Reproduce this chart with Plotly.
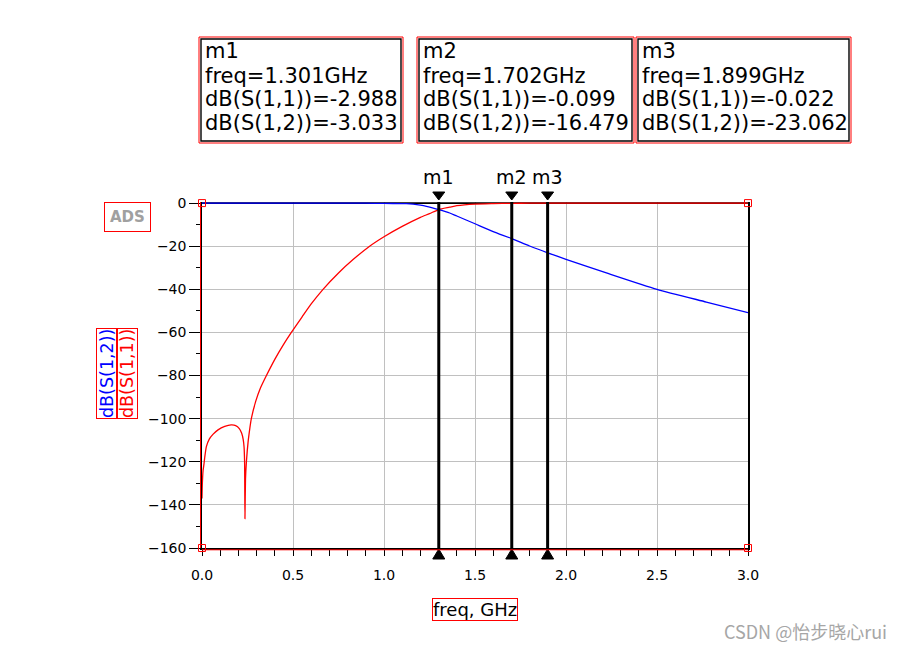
import plotly.graph_objects as go

# ---------------- data ----------------
FREQ_S11 = [0.0, 0.002, 0.006, 0.011, 0.015, 0.024, 0.04, 0.06, 0.088, 0.125, 0.16, 0.185,
            0.205, 0.218, 0.226, 0.231, 0.234, 0.236, 0.239, 0.244, 0.253, 0.262, 0.271,
            0.295, 0.32, 0.354, 0.40, 0.445, 0.491, 0.55, 0.60, 0.665, 0.75, 0.83,
            0.921, 1.0, 1.1, 1.2, 1.25, 1.301, 1.361, 1.4, 1.5, 1.6, 1.702, 1.8, 1.899,
            2.0, 2.5, 3.0]
DB_S11 = [-137.0, -130.0, -124.0, -121.0, -118.0, -113.0, -109.5, -107.3, -105.2, -103.6,
          -102.9, -103.2, -104.6, -106.8, -109.5, -113.0, -120.0, -146.4, -128.0, -120.0,
          -111.0, -105.0, -100.0, -92.0, -86.0, -80.0, -72.5, -66.0, -60.0, -52.8, -46.8,
          -40.0, -32.4, -26.2, -20.0, -15.6, -10.8, -6.6, -4.9, -2.988, -1.9, -1.2, -0.45,
          -0.22, -0.099, -0.05, -0.022, -0.012, -0.003, -0.001]

FREQ_S12 = [0.0, 0.5, 0.8, 0.9, 1.0, 1.1, 1.123, 1.2, 1.233, 1.301, 1.361, 1.4, 1.5, 1.6,
            1.702, 1.8, 1.899, 2.0, 2.222, 2.5, 2.771, 3.0]
DB_S12 = [0.0, -0.0, -0.02, -0.06, -0.15, -0.25, -0.3, -1.0, -1.5, -3.033, -4.6, -6.0,
          -9.6, -13.2, -16.479, -19.9, -23.062, -26.1, -32.4, -40.0, -45.9, -50.8]

MARKER_NAMES = ["m1", "m2", "m3"]
MARKER_FREQ = [1.301, 1.702, 1.899]
MARKER_S11 = [-2.988, -0.099, -0.022]
MARKER_S12 = [-3.033, -16.479, -23.062]

X_TICKS = [0.0, 0.5, 1.0, 1.5, 2.0, 2.5, 3.0]
X_TICK_TEXT = ["0.0", "0.5", "1.0", "1.5", "2.0", "2.5", "3.0"]
Y_TICKS = [0, -20, -40, -60, -80, -100, -120, -140, -160]
X_RANGE = [0.0, 3.0]
Y_RANGE = [-160, 0]
Y_HEADROOM = 0.5   # small headroom so the 0 dB frame line and curves are not clipped

# ---------------- layout helpers ----------------
OFF = 8                      # page body margin
W, H = 904 - OFF, 650 - OFF
ML, MT = 202 - OFF, 202 - OFF
MR = W - (748 - OFF)
MB = H - (548 - OFF)
PW = W - ML - MR
PH = H - MT - MB
FONT = "DejaVu Sans"


def px(x):
    """reference-screen x pixel -> paper fraction"""
    return (x - OFF - ML) / PW


def py(y):
    """reference-screen y pixel -> paper fraction"""
    return (H - MB - (y - OFF)) / PH


fig = go.Figure()

# top frame line at 0 dB (drawn first so the curves sit on it)
fig.add_trace(go.Scatter(x=X_RANGE, y=[Y_RANGE[1], Y_RANGE[1]], mode="lines",
                         line=dict(color="black", width=1.6), showlegend=False,
                         hoverinfo="skip"))

fig.add_trace(go.Scatter(x=FREQ_S11, y=DB_S11, mode="lines",
                         line=dict(color="#ff0000", width=1.3, shape="spline", smoothing=0.6),
                         showlegend=False, hoverinfo="skip"))
fig.add_trace(go.Scatter(x=FREQ_S12, y=DB_S12, mode="lines",
                         line=dict(color="#0000ff", width=1.3, shape="spline", smoothing=0.6),
                         showlegend=False, hoverinfo="skip"))

# marker lines
for f in MARKER_FREQ:
    fig.add_trace(go.Scatter(x=[f, f], y=[Y_RANGE[0], Y_RANGE[1] + Y_HEADROOM], mode="lines",
                             line=dict(color="black", width=3), showlegend=False,
                             hoverinfo="skip"))

# small red squares at plot corners
fig.add_trace(go.Scatter(x=[X_RANGE[0], X_RANGE[1], X_RANGE[1], X_RANGE[0]],
                         y=[Y_RANGE[1], Y_RANGE[1], Y_RANGE[0], Y_RANGE[0]],
                         mode="markers", cliponaxis=False,
                         marker=dict(symbol="square-open", size=7, color="#ff0000",
                                     line=dict(width=1, color="#ff0000")),
                         showlegend=False, hoverinfo="skip"))

annotations = []
shapes = []

# marker triangles (pixel-sized paths anchored at marker frequency)
for f in MARKER_FREQ:
    shapes.append(dict(type="path", xref="x", xsizemode="pixel", xanchor=f,
                       yref="paper", ysizemode="pixel", yanchor=1,
                       path="M-6,10 L6,10 L0,2 Z", fillcolor="black",
                       line=dict(color="black", width=1)))
    shapes.append(dict(type="path", xref="x", xsizemode="pixel", xanchor=f,
                       yref="paper", ysizemode="pixel", yanchor=0,
                       path="M-6,-11 L6,-11 L0,-1 Z", fillcolor="black",
                       line=dict(color="black", width=1)))

# marker labels above plot
for name, f in zip(MARKER_NAMES, MARKER_FREQ):
    annotations.append(dict(x=f, xref="x", y=1, yref="paper", yshift=25, text=name,
                            showarrow=False, xanchor="center", yanchor="middle",
                            font=dict(family=FONT, size=19, color="black")))

# marker readout boxes
BOX_LEFT = [199, 417, 636]
BOX_RIGHT = [403, 634, 851]
BOX_TOP, BOX_BOTTOM = 37, 143
LINE_Y = [51, 76, 99, 123]
for i, name in enumerate(MARKER_NAMES):
    l, r = BOX_LEFT[i], BOX_RIGHT[i]
    shapes.append(dict(type="rect", xref="paper", yref="paper", x0=px(l), x1=px(r),
                       y0=py(BOX_BOTTOM), y1=py(BOX_TOP), line=dict(color="#ff0000", width=1)))
    shapes.append(dict(type="rect", xref="paper", yref="paper", x0=px(l + 2), x1=px(r - 2),
                       y0=py(BOX_BOTTOM - 2), y1=py(BOX_TOP + 2), line=dict(color="black", width=1.4)))
    lines = [name,
             f"freq={MARKER_FREQ[i]:.3f}GHz",
             f"dB(S(1,1))={MARKER_S11[i]:.3f}",
             f"dB(S(1,2))={MARKER_S12[i]:.3f}"]
    for t, yy in zip(lines, LINE_Y):
        annotations.append(dict(x=px(l + 4), xref="paper", y=py(yy), yref="paper", text=t,
                                showarrow=False, xanchor="left", yanchor="middle",
                                font=dict(family=FONT, size=21, color="black")))

# y axis titles (rotated)
annotations.append(dict(x=px(107), xref="paper", y=py(374), yref="paper", text="dB(S(1,2))",
                        textangle=-90, showarrow=False, xanchor="center", yanchor="middle",
                        bordercolor="#ff0000", borderwidth=1, borderpad=0,
                        font=dict(family=FONT, size=17.5, color="#0000ff")))
annotations.append(dict(x=px(127), xref="paper", y=py(374), yref="paper", text="dB(S(1,1))",
                        textangle=-90, showarrow=False, xanchor="center", yanchor="middle",
                        bordercolor="#ff0000", borderwidth=1, borderpad=0,
                        font=dict(family=FONT, size=17.5, color="#ff0000")))

# x axis title
annotations.append(dict(x=px(475), xref="paper", y=py(609.5), yref="paper", text="freq, GHz",
                        showarrow=False, xanchor="center", yanchor="middle",
                        bordercolor="#ff0000", borderwidth=1, borderpad=0,
                        font=dict(family=FONT, size=18, color="black")))

# ADS logo
annotations.append(dict(x=px(127.5), xref="paper", y=py(217), yref="paper", text="<b>ADS</b>",
                        showarrow=False, xanchor="center", yanchor="middle",
                        bordercolor="#ff0000", borderwidth=1, borderpad=5,
                        font=dict(family=FONT, size=15, color="#a0a0a0")))

# watermark
annotations.append(dict(x=px(805), xref="paper", y=py(631), yref="paper", text="CSDN @怡步晓心rui",
                        showarrow=False, xanchor="center", yanchor="middle",
                        font=dict(family="Noto Sans CJK SC", size=18, color="#a6a6a6")))

# red companion axis lines
shapes.append(dict(type="line", xref="paper", yref="paper", x0=px(200.5), x1=px(200.5),
                   y0=0, y1=1, line=dict(color="#ff0000", width=1)))
shapes.append(dict(type="line", xref="paper", yref="paper", x0=0, x1=1,
                   y0=py(549.8), y1=py(549.8), line=dict(color="#ff0000", width=1)))

fig.update_layout(
    width=W, height=H,
    margin=dict(l=ML, r=MR, t=MT, b=MB, pad=0),
    paper_bgcolor="white", plot_bgcolor="white",
    showlegend=False,
    annotations=annotations,
    shapes=shapes,
    font=dict(family=FONT, color="black"),
)

fig.update_xaxes(
    range=X_RANGE, tickvals=X_TICKS, ticktext=X_TICK_TEXT,
    ticks="outside", ticklen=6, tickwidth=1, tickcolor="black",
    minor=dict(dtick=0.1, ticks="outside", ticklen=6, tickcolor="black", showgrid=False),
    showgrid=True, gridcolor="#c0c0c0", gridwidth=1,
    showline=True, linecolor="black", linewidth=1.5, mirror=False,
    zeroline=False, layer="below traces",
    tickfont=dict(family=FONT, size=14, color="black"),
    ticklabelstandoff=7,
)
fig.update_yaxes(
    range=[Y_RANGE[0], Y_RANGE[1] + Y_HEADROOM], tickvals=Y_TICKS,
    ticks="outside", ticklen=11, tickwidth=1, tickcolor="black",
    minor=dict(dtick=10, ticks="outside", ticklen=4, tickcolor="black", showgrid=False),
    showgrid=True, gridcolor="#c0c0c0", gridwidth=1,
    showline=True, linecolor="black", linewidth=1.5, mirror=True,
    zeroline=False, layer="below traces",
    tickfont=dict(family=FONT, size=14, color="black"),
)

fig.write_html("out.html", config={"displayModeBar": False})
